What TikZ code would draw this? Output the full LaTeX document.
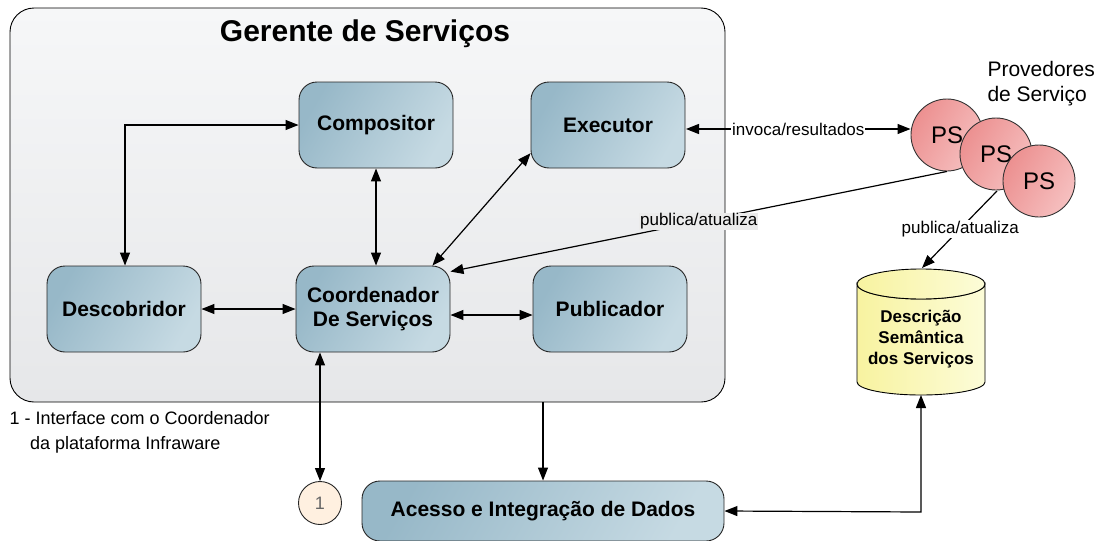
\documentclass[tikz,border=0pt]{standalone}
\usepackage{fontspec}
\setmainfont{Liberation Sans}
\usetikzlibrary{arrows.meta,shapes.geometric,calc}
\definecolor{boxA}{HTML}{97B8C8}
\definecolor{boxB}{HTML}{C6DAE3}
\definecolor{psA}{HTML}{EC9090}
\definecolor{psB}{HTML}{F6C0C0}
\definecolor{cylA}{HTML}{F8F3A0}
\definecolor{cylB}{HTML}{FCFCD8}
\definecolor{frameA}{HTML}{E6E7E9}
\definecolor{frameB}{HTML}{F6F7F8}
\tikzset{
  x=1pt,y=-1pt,
  mod/.style={draw=black!85,line width=0.9pt,rounded corners=18pt,minimum width=154pt,minimum height=86pt,
     left color=boxA,right color=boxB,shading angle=60,font=\bfseries\fontsize{21}{24}\selectfont,align=center},
  ps/.style={circle,draw=black!80,line width=0.9pt,minimum size=72pt,inner sep=0pt,
     left color=psA,right color=psB,shading angle=60,font=\fontsize{24}{26}\selectfont},
  con/.style={line width=1.2pt,{Triangle[length=13pt,width=10pt]}-{Triangle[length=13pt,width=10pt]}},
  onearrow/.style={line width=1.2pt,-{Triangle[length=13pt,width=10pt]}},
  lbl/.style={font=\fontsize{17}{19}\selectfont,fill=white,inner sep=1pt},
}
\begin{document}
\begin{tikzpicture}
\useasboundingbox (0,0) rectangle (1104,541);
% frame
\draw[line width=0.9pt,rounded corners=24pt,top color=frameB,bottom color=frameA] (10,8) rectangle (725,402);
\node[font=\bfseries\fontsize{30}{33}\selectfont] (title) at (365,34) {Gerente de Serviços};
% modules
\node[mod] (comp) at (376,125) {Compositor};
\node[mod] (exec) at (608,125) {Executor};
\node[mod] (desc) at (124,309) {Descobridor};
\node[mod] (coord) at (373,309) {Coordenador\\De Serviços};
\node[mod] (pub) at (610,309) {Publicador};
\node[mod,minimum width=362pt,minimum height=60pt] (acc) at (543,511) {Acesso e Integração de Dados};
% circle 1
\node[circle,draw=black!85,line width=0.9pt,fill=orange!12,minimum size=43pt,inner sep=0pt,text=black!60,font=\fontsize{18}{20}\selectfont] (one) at (320,503) {1};
% PS circles
\node[ps] (ps1) at (947,135) {PS};
\node[ps] (ps2) at (996,154) {PS};
\node[ps] (ps3) at (1039,181) {PS};
\node[anchor=west,font=\fontsize{21}{25}\selectfont,align=left] (prov) at (984,84) {Provedores\\de Serviço};
% cylinder
\draw[line width=0.9pt,left color=cylA,right color=cylB]
  (857,284) -- (857,382) arc[start angle=180,end angle=0,x radius=64,y radius=13] -- (985,284)
  arc[start angle=0,end angle=180,x radius=64,y radius=15] -- cycle;
\draw[line width=0.9pt,left color=cylA,right color=cylB] (921,284) ellipse[x radius=64,y radius=15];
\node[font=\bfseries\fontsize{17}{21}\selectfont,align=center] (sem) at (921,339) {Descrição\\Semântica\\dos Serviços};
\coordinate (cyltop) at (922,268);
\coordinate (cylbot) at (921,395);
% legend
\node[anchor=west,font=\fontsize{18}{25}\selectfont,align=left] (leg) at (6,432) {1 - Interface com o Coordenador\\\hspace{1.15em}da plataforma Infraware};
% connectors
\coordinate (bend) at (125,125);
\draw[con] (comp.west) -- (bend) -- (desc.north-|bend);
\draw[con] (comp.south) -- (coord.north-|comp.south);
\draw[con] (exec.200) -- ($(coord.north east)+(-18,0)$);
\draw[con] (desc.east) -- (coord.west);
\draw[con] ($(coord.east)+(0,6)$) -- ($(pub.west)+(0,6)$);
\coordinate (execr) at (686,129);
\draw[con] (execr) -- node[lbl,pos=0.5]{invoca/resultados} (ps1.west|-execr);
\draw[onearrow] (ps1.south) -- node[lbl,fill=black!8,pos=0.5]{publica/atualiza} ($(coord.north east)+(0,6)$);
\coordinate (ps2b) at (997,191);
\draw[onearrow] (ps2b) -- node[lbl,pos=0.49]{publica/atualiza} (cyltop);
\draw[con] (coord.south-|one.north) -- (one.north);
\coordinate (fb) at (543,402);
\draw[onearrow] (fb) -- (acc.north-|fb);
\coordinate (cr) at (921,512);
\draw[con] (acc.east) -- (cr) -- (cylbot);
\end{tikzpicture}
\end{document}
